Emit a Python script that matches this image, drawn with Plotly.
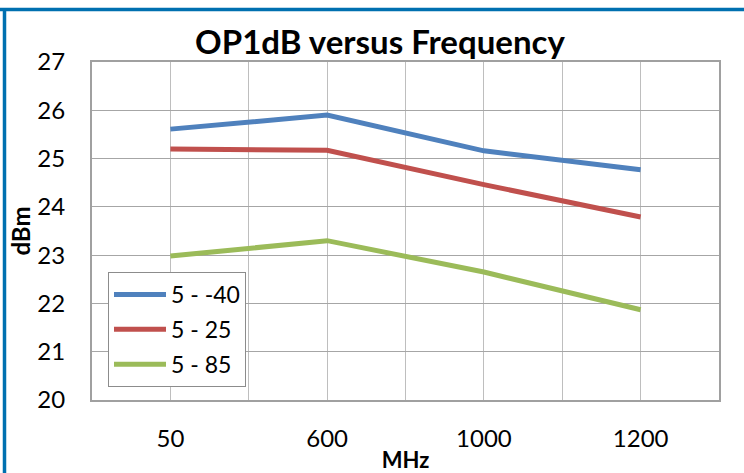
import plotly.graph_objects as go

categories = ["50", "600", "1000", "1200"]
series_names = ["5 - -40", "5 - 25", "5 - 85"]
s_m40 = [25.61, 25.90, 25.16, 24.77]
s_25 = [25.20, 25.17, 24.46, 23.79]
s_85 = [22.98, 23.30, 22.65, 21.87]
y_ticks = [20, 21, 22, 23, 24, 25, 26, 27]

colors = ["#4F81BD", "#C0504D", "#9BBB59"]
FONT = "Lato, Carlito, Calibri, sans-serif"

xpos = [i + 0.5 for i in range(len(categories))]

W, H = 744, 473
L, R, T, B = 92, 25, 62, 73
PW, PH = W - L - R, H - T - B

fig = go.Figure()
for i, (name, vals) in enumerate(zip(series_names, [s_m40, s_25, s_85])):
    fig.add_trace(go.Scatter(
        x=xpos, y=vals, name=name, mode="lines",
        line=dict(color=colors[i], width=5),
        legendgroup=f"g{i}",
    ))

fig.update_layout(
    width=W, height=H,
    autosize=False,
    margin=dict(l=L, r=R, t=T, b=B, autoexpand=False),
    paper_bgcolor="white", plot_bgcolor="white",
    font=dict(family=FONT, color="black", size=24),
    title=dict(text="<b>OP1dB versus Frequency</b>", x=(380 - L) / PW, xanchor="center",
               xref="paper",
               y=1 - 42 / H, yanchor="middle", font=dict(size=33, family=FONT)),
    showlegend=True,
    legend=dict(x=(108 - L) / PW, y=(H - B - 272) / PH, xanchor="left", yanchor="top",
                bordercolor="#8C8C8C", borderwidth=1, bgcolor="white",
                font=dict(size=23, family=FONT), tracegroupgap=2,
                itemwidth=52),
    shapes=[
        dict(type="line", xref="paper", yref="paper", x0=-L / PW, x1=1 + R / PW,
             y0=1 + (T - 9.5) / PH, y1=1 + (T - 9.5) / PH, line=dict(color="#0070B0", width=3.5)),
        dict(type="line", xref="paper", yref="paper", x0=-(L - 4.5) / PW, x1=-(L - 4.5) / PW,
             y0=1 + (T - 8) / PH, y1=-B / PH, line=dict(color="#0070B0", width=3.5)),
    ],
)

fig.update_xaxes(
    range=[0, len(categories)], automargin=False,
    tickmode="array", tickvals=xpos, ticktext=categories,
    showgrid=True, gridcolor="#BEBEBE", gridwidth=1,
    minor=dict(dtick=0.5, tick0=0, showgrid=True, gridcolor="#BEBEBE", gridwidth=1),
    showline=True, linecolor="#A0A0A0", linewidth=2, mirror=True,
    ticks="", ticklabelstandoff=16,
    tickfont=dict(size=24, family=FONT),
    title=dict(text="<b>MHz</b>", standoff=3, font=dict(size=22, family=FONT)),
    zeroline=False,
)
fig.update_yaxes(
    range=[20, 27], automargin=False, tickmode="array", tickvals=y_ticks,
    showgrid=True, gridcolor="#A6A6A6", gridwidth=1,
    showline=True, linecolor="#A0A0A0", linewidth=2, mirror=True,
    ticks="", ticklabelstandoff=20,
    tickfont=dict(size=24, family=FONT),
    title=dict(text="<b>dBm</b>", standoff=0, font=dict(size=24, family=FONT)),
    zeroline=False,
)

fig.write_html("out.html", config={"displayModeBar": False},
               post_script="document.body.style.margin='0';")
